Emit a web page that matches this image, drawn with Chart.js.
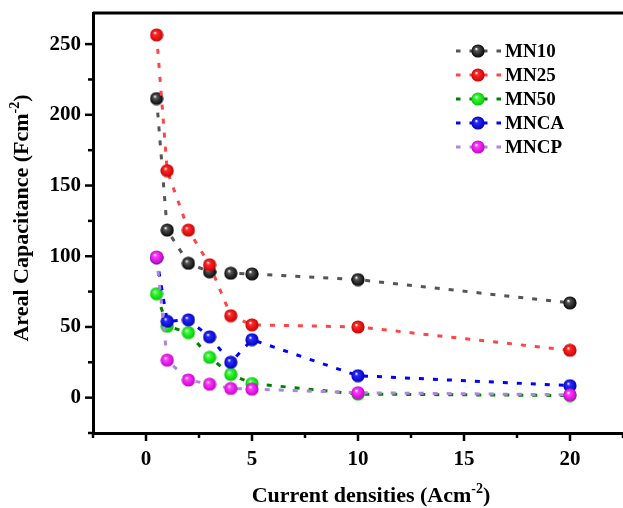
<!DOCTYPE html>
<html>
<head>
<meta charset="utf-8">
<script src="https://cdn.jsdelivr.net/npm/chart.js@4.4.1/dist/chart.umd.min.js"></script>
<style>
  html, body { margin: 0; padding: 0; background: #fff; }
</style>
</head>
<body>
<canvas id="chart" width="623" height="508"></canvas>
<script>
// data
const currents = [0.5, 1, 2, 3, 4, 5, 10, 20];
const mn10 = [211.5, 118.5, 95, 89, 88, 87.5, 83.5, 67];
const mn25 = [256.5, 160.5, 118.5, 94, 58, 51.5, 50, 33.5];
const mn50 = [73.5, 50.5, 46, 28.5, 16.5, 10, 2.5, 1.5];
const mnca = [99, 54, 55, 43, 25, 41, 15.5, 8.5];
const mncp = [99.5, 26.5, 12.5, 9.5, 6.5, 6, 3.5, 2];
const seriesNames = ['MN10', 'MN25', 'MN50', 'MNCA', 'MNCP'];
const xTicks = [0, 5, 10, 15, 20];
const yTicks = [0, 50, 100, 150, 200, 250];

const FONT = '"Liberation Serif", "Times New Roman", serif';

// shiny ball marker
function ball(light, dark) {
  const cv = document.createElement('canvas');
  cv.width = cv.height = 14;
  const g = cv.getContext('2d');
  const grad = g.createRadialGradient(5.2, 4.8, 0.3, 7, 7, 7);
  grad.addColorStop(0, '#ffffff');
  grad.addColorStop(0.22, light);
  grad.addColorStop(1, dark);
  g.fillStyle = grad;
  g.beginPath();
  g.arc(7, 7, 6.6, 0, Math.PI * 2);
  g.fill();
  return cv;
}

function series(label, vals, line, marker, order) {
  return {
    label: label,
    data: currents.map((x, i) => ({ x: x, y: vals[i] })),
    showLine: true,
    borderColor: line,
    borderWidth: 3,
    borderDash: [5, 9],
    pointStyle: marker,
    pointRadius: 7,
    order: order
  };
}

const datasets = [
  series(seriesNames[0], mn10, '#555555', ball('#555555', '#000000'), 5),
  series(seriesNames[1], mn25, '#ff4545', ball('#ff2a2a', '#c80000'), 4),
  series(seriesNames[2], mn50, '#008000', ball('#3cff3c', '#00c400'), 3),
  series(seriesNames[3], mnca, '#0000ff', ball('#2a2aff', '#0000b4'), 2),
  series(seriesNames[4], mncp, '#b084e0', ball('#ff3cff', '#c400c4'), 1)
];

// text with a superscript part
function drawSup(ctx, parts, x, y, align) {
  const big = 'bold 22px ' + FONT, small = 'bold 14px ' + FONT;
  let w = 0;
  parts.forEach(p => { ctx.font = p.sup ? small : big; w += ctx.measureText(p.t).width; });
  let cx = align === 'center' ? x - w / 2 : x;
  ctx.textAlign = 'left';
  ctx.textBaseline = 'alphabetic';
  parts.forEach(p => {
    ctx.font = p.sup ? small : big;
    ctx.fillText(p.t, cx, p.sup ? y - 9 : y);
    cx += ctx.measureText(p.t).width;
  });
}

const decor = {
  id: 'decor',
  afterDraw(chart) {
    const ctx = chart.ctx, a = chart.chartArea;
    const xs = chart.scales.x, ys = chart.scales.y;
    ctx.save();
    ctx.strokeStyle = '#000';
    // top frame line
    ctx.lineWidth = 3;
    ctx.beginPath();
    ctx.moveTo(a.left, a.top);
    ctx.lineTo(a.right, a.top);
    ctx.stroke();

    // tick marks, major + minor halfway
    ctx.lineWidth = 2.5;
    const yMinor = [];
    for (let i = 0; i < yTicks.length; i++) yMinor.push(yTicks[i] - 25);
    yMinor.push(yTicks[yTicks.length - 1] + 25);
    yTicks.forEach(v => {
      const p = ys.getPixelForValue(v);
      ctx.beginPath(); ctx.moveTo(a.left - 8, p); ctx.lineTo(a.left, p); ctx.stroke();
    });
    yMinor.forEach(v => {
      if (v < ys.min || v > ys.max) return;
      const p = ys.getPixelForValue(v);
      ctx.beginPath(); ctx.moveTo(a.left - 5, p); ctx.lineTo(a.left, p); ctx.stroke();
    });
    const xMinor = [];
    for (let i = 0; i < xTicks.length; i++) xMinor.push(xTicks[i] - 2.5);
    xMinor.push(xTicks[xTicks.length - 1] + 2.5);
    xTicks.forEach(v => {
      const p = xs.getPixelForValue(v);
      ctx.beginPath(); ctx.moveTo(p, a.bottom); ctx.lineTo(p, a.bottom + 8); ctx.stroke();
    });
    xMinor.forEach(v => {
      const p = xs.getPixelForValue(v);
      ctx.beginPath(); ctx.moveTo(p, a.bottom); ctx.lineTo(p, a.bottom + 5); ctx.stroke();
    });

    // axis titles
    ctx.fillStyle = '#000';
    drawSup(ctx, [{ t: 'Current densities (Acm' }, { t: '-2', sup: true }, { t: ')' }], 371, 502, 'center');
    ctx.save();
    ctx.translate(28, 218);
    ctx.rotate(-Math.PI / 2);
    drawSup(ctx, [{ t: 'Areal Capacitance (Fcm' }, { t: '-2', sup: true }, { t: ')' }], 0, 0, 'center');
    ctx.restore();

    // legend
    chart.data.datasets.forEach((ds, i) => {
      const y = 51 + i * 24;
      ctx.strokeStyle = ds.borderColor;
      ctx.lineWidth = 3;
      ctx.setLineDash([4.5, 9]);
      ctx.beginPath(); ctx.moveTo(456, y); ctx.lineTo(501, y); ctx.stroke();
      ctx.setLineDash([]);
      ctx.drawImage(ds.pointStyle, 478 - 7, y - 7);
      ctx.fillStyle = '#000';
      ctx.font = 'bold 19px ' + FONT;
      ctx.textAlign = 'left';
      ctx.textBaseline = 'middle';
      ctx.fillText(ds.label, 505, y + 1);
    });
    ctx.restore();
  }
};

function noPad(s) {
  s.paddingTop = 0; s.paddingBottom = 0; s.paddingLeft = 0; s.paddingRight = 0;
}

new Chart(document.getElementById('chart'), {
  type: 'scatter',
  data: { datasets: datasets },
  plugins: [decor],
  options: {
    responsive: false,
    animation: false,
    layout: { autoPadding: false, padding: { top: 13, right: 0, left: 0, bottom: 0 } },
    plugins: { legend: { display: false }, tooltip: { enabled: false } },
    scales: {
      x: {
        type: 'linear',
        min: -2.5,
        max: 22.5,
        afterBuildTicks: s => { s.ticks = xTicks.map(v => ({ value: v })); },
        afterFit: s => { s.height = 75; noPad(s); },
        grid: { display: false, drawTicks: false, tickLength: 0 },
        border: { display: true, color: '#000', width: 3 },
        ticks: { color: '#000', padding: 14, font: { family: FONT, size: 21, weight: 'bold' } }
      },
      y: {
        type: 'linear',
        min: -25,
        max: 272,
        afterBuildTicks: s => { s.ticks = yTicks.map(v => ({ value: v })); },
        afterFit: s => { s.width = 93; noPad(s); },
        grid: { display: false, drawTicks: false, tickLength: 0 },
        border: { display: true, color: '#000', width: 3 },
        ticks: { color: '#000', padding: 12, font: { family: FONT, size: 21, weight: 'bold' } }
      }
    }
  }
});
</script>
</body>
</html>
